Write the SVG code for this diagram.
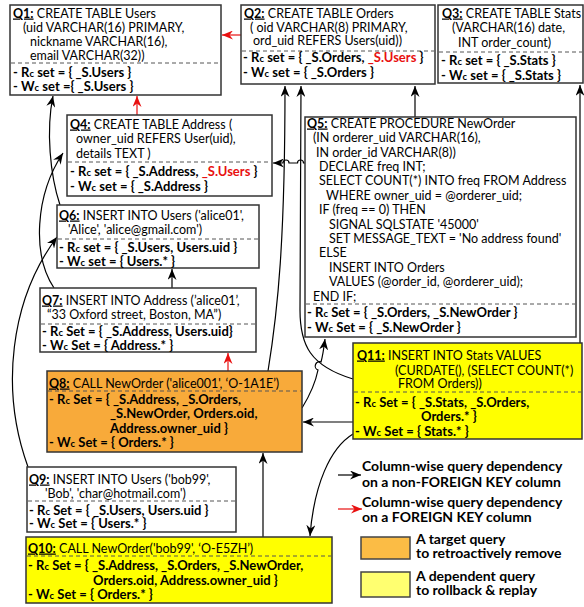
<svg xmlns="http://www.w3.org/2000/svg" width="584" height="607" viewBox="0 0 584 607">
<style>
text { font-family: Lato, "Open Sans", "Liberation Sans", sans-serif; font-size: 12.5px; fill: #000; }
.b { font-weight: bold; font-size: 13px; }
.u { font-weight: bold; text-decoration: underline; }
.s { font-size: 9.5px; }
.red { fill: #e81010; }
.box { fill: #fff; stroke: #333; stroke-width: 1.5; }
.org { fill: #F8AA3A; stroke: #333; stroke-width: 1.5; }
.yel { fill: #FFFF00; stroke: #333; stroke-width: 1.5; }
.dash { stroke: #555; stroke-width: 1; stroke-dasharray: 4 3; }
.c { fill: none; stroke: #000; stroke-width: 1.2; marker-end: url(#ah); }
.cr { fill: none; stroke: #e81010; stroke-width: 1.2; marker-end: url(#ahr); }
.lg { font-size: 14px; font-weight: bold; }
</style>
<defs>
<marker id="ah" viewBox="0 0 11 9" refX="11" refY="4.5" markerWidth="11" markerHeight="9" markerUnits="userSpaceOnUse" orient="auto"><path d="M0,0 L11,4.5 L0,9 L3.5,4.5 z" fill="#000"/></marker>
<marker id="ahr" viewBox="0 0 11 9" refX="11" refY="4.5" markerWidth="11" markerHeight="9" markerUnits="userSpaceOnUse" orient="auto"><path d="M0,0 L11,4.5 L0,9 L3.5,4.5 z" fill="#e81010"/></marker>
</defs>

<g id="connectors">
<path class="cr" d="M241,35 L222,35"/>
<path class="cr" d="M137,115 L137,96"/>
<path class="c" d="M60,205 C50,175 46,130 53,96"/>
<path class="c" d="M54,288 C32,255 35,195 63,153"/>
<path class="c" d="M28,467 C0,390 10,300 57,237"/>
<path class="c" d="M172,288 L172,269"/>
<path class="cr" d="M228,371 L228,353"/>
<path class="c" d="M305,163 L303.5,163 A3,3 0 0 0 297.5,163 L289,163 A3,3 0 0 0 283,163 L273,163"/>
<path class="c" d="M268,371 C278,310 285,240 285,86"/>
<path class="c" d="M353,379 C310,366 300,345 300,310 L301,86"/>
<path class="c" d="M415,117 L415,86"/>
<path class="c" d="M580,343 L580,85"/>
<path class="c" d="M302,408 C310,395 316,380 318,370 A3.5,3.5 0 0 1 321,362 C323,355 324,347 325,339"/>
<path class="c" d="M353,422 L303,422"/>
<path class="c" d="M263,537 L263,453"/>
<path class="c" d="M353,434 C330,448 314,485 310,536"/>
</g>

<g id="Q1">
<rect class="box" x="10" y="5" width="211" height="90"/>
<text x="13" y="17.5"><tspan class="u">Q1:</tspan> CREATE TABLE Users</text>
<text x="23" y="31.5">(uid VARCHAR(16) PRIMARY,</text>
<text x="30" y="46">nickname VARCHAR(16),</text>
<text x="30" y="59.5">email VARCHAR(32))</text>
<line class="dash" x1="11" y1="63" x2="220" y2="63"/>
<text class="b" x="13" y="76.5">- R<tspan class="s">c</tspan> set = { _S.Users }</text>
<text class="b" x="13" y="91">- W<tspan class="s">c</tspan> set ={ _S.Users }</text>
</g>

<g id="Q2">
<rect class="box" x="241" y="5" width="194" height="79"/>
<text x="244" y="17.5"><tspan class="u">Q2:</tspan> CREATE TABLE Orders</text>
<text x="250" y="31.5">( oid VARCHAR(8) PRIMARY,</text>
<text x="253" y="45">ord_uid REFERS Users(uid))</text>
<line class="dash" x1="242" y1="51" x2="434" y2="51"/>
<text class="b" x="243" y="62">- R<tspan class="s">c</tspan> set = { _S.Orders, <tspan class="red">_S.Users</tspan> }</text>
<text class="b" x="243" y="76.5">- W<tspan class="s">c</tspan> set = { _S.Orders }</text>
</g>

<g id="Q3">
<rect class="box" x="438" y="5" width="145" height="78"/>
<text x="442" y="17.5"><tspan class="u">Q3:</tspan> CREATE TABLE Stats</text>
<text x="452" y="32">(VARCHAR(16) date,</text>
<text x="458" y="46.5">INT order_count)</text>
<line class="dash" x1="439" y1="52" x2="582" y2="52"/>
<text class="b" x="441" y="64.5">- R<tspan class="s">c</tspan> set = { _S.Stats }</text>
<text class="b" x="441" y="79.5">- W<tspan class="s">c</tspan> set = { _S.Stats }</text>
</g>

<g id="Q4">
<rect class="box" x="67" y="115" width="205" height="81"/>
<text x="70" y="128.5"><tspan class="u">Q4:</tspan> CREATE TABLE Address (</text>
<text x="76" y="143">owner_uid REFERS User(uid),</text>
<text x="76" y="157.5">details TEXT )</text>
<line class="dash" x1="68" y1="162" x2="271" y2="162"/>
<text class="b" x="70" y="175.5">- R<tspan class="s">c</tspan> set = { _S.Address, <tspan class="red">_S.Users</tspan> }</text>
<text class="b" x="70" y="190.5">- W<tspan class="s">c</tspan> set = { _S.Address }</text>
</g>

<g id="Q5">
<rect class="box" x="305" y="117" width="271" height="220"/>
<text x="307" y="127.5"><tspan class="u">Q5:</tspan> CREATE PROCEDURE NewOrder</text>
<text x="313" y="142">(IN orderer_uid VARCHAR(16),</text>
<text x="316" y="156.5">IN order_id VARCHAR(8))</text>
<text x="319" y="170.5">DECLARE freq INT;</text>
<text x="319" y="185">SELECT COUNT(*) INTO freq FROM Address</text>
<text x="326" y="199.5">WHERE owner_uid = @orderer_uid;</text>
<text x="319" y="214">IF (freq == 0) THEN</text>
<text x="329" y="228.5">SIGNAL SQLSTATE '45000'</text>
<text x="329" y="242.5">SET MESSAGE_TEXT = 'No address found'</text>
<text x="319" y="257">ELSE</text>
<text x="329" y="271.5">INSERT INTO Orders</text>
<text x="329" y="286">VALUES (@order_id, @orderer_uid);</text>
<text x="313" y="300.5">END IF;</text>
<line class="dash" x1="306" y1="304" x2="575" y2="304"/>
<text class="b" x="307" y="317">- R<tspan class="s">c</tspan> Set = { _S.Orders, _S.NewOrder }</text>
<text class="b" x="307" y="331.5">- W<tspan class="s">c</tspan> Set = { _S.NewOrder }</text>
</g>

<g id="Q6">
<rect class="box" x="57" y="205" width="202" height="63"/>
<text x="59" y="219.5"><tspan class="u">Q6:</tspan> INSERT INTO Users ('alice01',</text>
<text x="68" y="233.5">'Alice', 'alice@gmail.com')</text>
<line class="dash" x1="58" y1="239" x2="258" y2="239"/>
<text class="b" x="59" y="252">- R<tspan class="s">c</tspan> set = { _S.Users, Users.uid }</text>
<text class="b" x="59" y="265.5">- W<tspan class="s">c</tspan> set = { Users.* }</text>
</g>

<g id="Q7">
<rect class="box" x="40" y="288" width="216" height="64"/>
<text x="42" y="304.5"><tspan class="u">Q7:</tspan> INSERT INTO Address (’alice01’,</text>
<text x="47" y="318.5">“33 Oxford street, Boston, MA”)</text>
<line class="dash" x1="41" y1="324" x2="255" y2="324"/>
<text class="b" x="42" y="335.5">- R<tspan class="s">c</tspan> Set = { _S.Address, Users.uid}</text>
<text class="b" x="42" y="349.5">- W<tspan class="s">c</tspan> Set = { Address.* }</text>
</g>

<g id="Q8">
<rect class="org" x="47" y="371" width="255" height="81"/>
<text x="49" y="387.5"><tspan class="u">Q8:</tspan> CALL NewOrder ('alice001', ‘O-1A1E’)</text>
<line class="dash" x1="48" y1="391" x2="301" y2="391"/>
<text class="b" x="49" y="403.5">- R<tspan class="s">c</tspan> Set = { _S.Address, _S.Orders,</text>
<text class="b" x="110" y="417.5">_S.NewOrder, Orders.oid,</text>
<text class="b" x="110" y="432.5">Address.owner_uid }</text>
<text class="b" x="49" y="446.5">- W<tspan class="s">c</tspan> Set = { Orders.* }</text>
</g>

<g id="Q9">
<rect class="box" x="27" y="467" width="209" height="65"/>
<text x="29" y="483.5"><tspan class="u">Q9:</tspan> INSERT INTO Users ('bob99',</text>
<text x="45" y="497.5">'Bob', 'char@hotmail.com')</text>
<line class="dash" x1="28" y1="501" x2="235" y2="501"/>
<text class="b" x="29" y="514.5">- R<tspan class="s">c</tspan> Set = { _S.Users, Users.uid }</text>
<text class="b" x="29" y="527.5">- W<tspan class="s">c</tspan> Set = { Users.* }</text>
</g>

<g id="Q10">
<rect class="yel" x="26" y="537" width="306" height="66"/>
<text x="28" y="552.5"><tspan class="u">Q10:</tspan> CALL NewOrder('bob99', ‘O-E5ZH’)</text>
<line class="dash" x1="27" y1="556" x2="331" y2="556"/>
<text class="b" x="28" y="569.5">- R<tspan class="s">c</tspan> Set = { _S.Address, _S.Orders, _S.NewOrder,</text>
<text class="b" x="93" y="584.5">Orders.oid, Address.owner_uid }</text>
<text class="b" x="28" y="599">- W<tspan class="s">c</tspan> Set = { Orders.* }</text>
</g>

<g id="Q11">
<rect class="yel" x="353" y="343" width="229" height="96"/>
<text x="357" y="359.5"><tspan class="u">Q11:</tspan> INSERT INTO Stats VALUES</text>
<text x="395" y="374.5">(CURDATE(), (SELECT COUNT(*)</text>
<text x="398" y="387.5">FROM Orders))</text>
<line class="dash" x1="354" y1="392" x2="581" y2="392"/>
<text class="b" x="355" y="406.5">- R<tspan class="s">c</tspan> Set = { _S.Stats, _S.Orders,</text>
<text class="b" x="421" y="420.5">Orders.* }</text>
<text class="b" x="355" y="435.5">- W<tspan class="s">c</tspan> Set = { Stats.* }</text>
</g>

<g id="legend">
<line x1="338" y1="475" x2="361" y2="475" stroke="#000" stroke-width="1.2" marker-end="url(#ah)"/>
<text class="lg" x="362" y="471">Column-wise query dependency</text>
<text class="lg" x="362" y="486.5">on a non-FOREIGN KEY column</text>
<line x1="338" y1="509" x2="362" y2="509" stroke="#e81010" stroke-width="1.2" marker-end="url(#ahr)"/>
<text class="lg" x="362" y="507">Column-wise query dependency</text>
<text class="lg" x="362" y="522">on a FOREIGN KEY column</text>
<rect x="361" y="537" width="49" height="22" fill="#FBBC45" stroke="#444" stroke-width="1.5"/>
<text class="lg" x="416" y="544">A target query</text>
<text class="lg" x="416" y="557.5">to retroactively remove</text>
<rect x="361" y="572" width="49" height="25" fill="#FFFF70" stroke="#444" stroke-width="1.5"/>
<text class="lg" x="416" y="580.5">A dependent query</text>
<text class="lg" x="416" y="594.5">to rollback &amp; replay</text>
</g>
</svg>
